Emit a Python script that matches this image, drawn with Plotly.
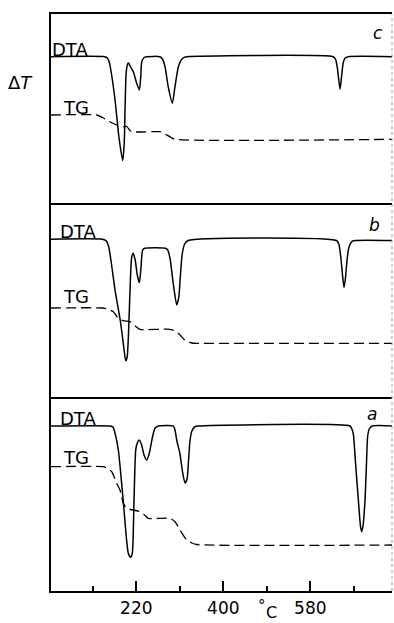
import plotly.graph_objects as go
from plotly.subplots import make_subplots

# ---- run c (top panel) : temperature in °C, signals in arbitrary units ----
temp_c_dta = [43.5, 155, 160, 164, 168, 176, 184, 191.9, 195, 197, 199, 202, 204, 208, 213.8,
              220.8, 226.2, 229, 231.2, 236, 241.5, 269, 274, 279.4, 286, 294.5, 300, 307, 313,
              320, 325, 627, 632, 636, 641.5, 645, 648, 652, 658, 751]
dta_c = [146.3, 146.3, 145, 141, 131, 103, 66, 42.3, 60, 100, 130, 139, 140, 136, 131.3,
         119.7, 113, 125, 141, 145.5, 146.3, 146.3, 144, 136.3, 116.3, 99.7, 116.3, 136.3, 143,
         145.8, 146.3, 146.3, 144, 135, 113.7, 128, 140, 145, 146.3, 146.3]
temp_c_tg = [43.5, 138, 150, 162, 179.4, 193, 200, 206, 210.5, 269, 276, 283, 292, 300, 751]
tg_c = [88, 88, 85.5, 82, 78, 76.3, 76.5, 73, 71.3, 71.3, 70, 68, 65.5, 63.7, 63.7]

# ---- run b (middle panel) ----
temp_b_dta = [43.5, 150, 158, 163, 168, 176, 187, 194, 198, 201, 204, 207, 210.5, 213.8, 218,
              222, 226.2, 229.5, 233.2, 238, 280, 285, 290, 296, 303.6, 308, 311, 315, 320, 327,
              634, 639, 643, 647, 649.7, 652.5, 656, 660, 666, 672, 751]
dta_b = [157.7, 157.7, 156, 150, 135, 107, 76, 50, 36.3, 40, 65, 107, 140, 143.7, 136,
         122, 114.3, 128, 147, 148.7, 148.7, 147, 138, 115, 92, 100, 120, 143, 153, 156.5,
         156.5, 153, 140, 120, 109.7, 118, 137, 150, 155.5, 156.5, 156.5]
temp_b_tg = [43.5, 150, 160, 172.4, 182.8, 193.1, 207, 214, 220.8, 227.7, 289.7, 300, 310.4,
             318, 324.3, 335, 345, 751]
tg_b = [89, 89, 88, 85.3, 78.7, 76.3, 75.3, 73, 69.7, 67.7, 67.7, 66, 62, 58, 55.3, 54, 53.7, 53.7]

# ---- run a (bottom panel) ----
temp_a_dta = [43.5, 165, 171.8, 175.9, 182.8, 193.1, 203.4, 208.4, 211.7, 215.2, 218.8, 222,
              226.2, 231, 236, 241.5, 247, 253, 258.7, 266, 296.6, 300, 304, 310, 316, 320.8,
              325, 328, 331, 335, 342, 348, 662, 666, 669, 674, 679.4, 684, 686.4, 689, 693.2,
              696, 698.7, 702, 708, 751]
dta_a = [165, 165, 164, 158, 141, 89.5, 37.7, 33.7, 37.7, 90, 141, 148,
         151, 146, 136, 131, 138, 153, 162.7, 165, 165, 161, 150, 138, 118, 108,
         112, 130, 150, 160, 164.5, 165, 165, 162, 157, 125, 91, 64, 59.3, 65, 91,
         125, 155, 162, 165, 165]
temp_a_tg = [43.5, 150, 160, 169, 179.4, 186.3, 193.1, 200.1, 207, 213.8, 227.7, 237, 244.8,
             289.7, 300.1, 310.4, 324.3, 335, 345, 751]
tg_a = [124.3, 124.3, 123, 119.3, 107.7, 101, 87.7, 82.7, 81.5, 81, 79.3, 76, 72.7,
        72.7, 69.3, 61, 51, 48, 46.5, 46]

tick_vals = [220, 400, 580]
tick_text = ["220", "400", "580"]
panel_letters = ["c", "b", "a"]
x_range = [43.5, 749]
y_ranges = [[0, 189], [0, 194], [0, 194]]

# page geometry (pixels)
W, H = 394, 623
ML, MR, MT, MB = 51, 2, 14, 32
PW, PH = W - ML - MR, H - MT - MB


def px_x(x):
    return (x - ML) / PW


def px_y(y):
    return (H - MB - y) / PH


FONT = "DejaVu Sans"
runs = [
    (temp_c_dta, dta_c, temp_c_tg, tg_c),
    (temp_b_dta, dta_b, temp_b_tg, tg_b),
    (temp_a_dta, dta_a, temp_a_tg, tg_a),
]

fig = make_subplots(rows=3, cols=1, shared_xaxes=True, vertical_spacing=0)

for i, (td, d, tt, g) in enumerate(runs, start=1):
    fig.add_trace(go.Scatter(x=td, y=d, mode="lines",
                             line=dict(color="black", width=1.5, shape="spline", smoothing=0.6),
                             showlegend=False, hoverinfo="skip"), row=i, col=1)
    fig.add_trace(go.Scatter(x=tt, y=g, mode="lines",
                             line=dict(color="black", width=1.3, dash="10px,5px",
                                       shape="spline", smoothing=0.6),
                             showlegend=False, hoverinfo="skip"), row=i, col=1)

domains = [[px_y(203), 1.0], [px_y(397), px_y(203)], [0.0, px_y(397)]]
for i in range(3):
    sx = "xaxis" if i == 0 else f"xaxis{i + 1}"
    sy = "yaxis" if i == 0 else f"yaxis{i + 1}"
    fig.layout[sy].update(domain=domains[i], range=y_ranges[i], showgrid=False,
                          zeroline=False, showticklabels=False, ticks="",
                          showline=True, linecolor="black", linewidth=1.5, mirror=False)
    # each panel draws its own lower edge; the top panel also closes the frame on top
    fig.layout[sx].update(range=x_range, showgrid=False, zeroline=False,
                          showline=True, linecolor="black", linewidth=1.5,
                          mirror=(i == 0))
    if i < 2:
        fig.layout[sx].update(showticklabels=False, ticks="")

fig.layout.xaxis3.update(
    tickmode="array", tickvals=tick_vals, ticktext=tick_text,
    ticks="inside", ticklen=10, tickwidth=1.5, tickcolor="black",
    showticklabels=True, ticklabelstandoff=1,
    tickfont=dict(family=FONT, size=17, color="black"),
    minor=dict(ticks="inside", ticklen=5, tickwidth=1.5, tickcolor="black",
               tick0=130, dtick=180, showgrid=False),
)

# faint right-hand frame edge
fig.add_shape(type="line", xref="paper", yref="paper", x0=1, x1=1, y0=0, y1=1,
              line=dict(color="#9a9a9a", width=1, dash="dot"))

annotations = []


def label(text, x, y, size=17, anchor="left", color="black"):
    annotations.append(dict(text=text, xref="paper", yref="paper", x=px_x(x), y=px_y(y),
                            xanchor=anchor, yanchor="middle", showarrow=False,
                            font=dict(family=FONT, size=size, color=color)))


# curve names and run letters
label("DTA", 50, 49, size=18)
label("TG", 61, 108, size=18)
label("DTA", 58, 231, size=18)
label("TG", 61, 296, size=18)
label("DTA", 58, 418, size=18)
label("TG", 61, 457, size=18)
letter_pos = [(378, 33), (374, 225), (372, 414)]
for letter, (lx, ly) in zip(panel_letters, letter_pos):
    label(f"<i>{letter}</i>", lx, ly, size=17, anchor="center")

# axis titles
label("Δ<i>T</i>", 20, 82, size=18, anchor="center")
label("°", 262, 606, size=15, anchor="center")
label("C", 271, 612, size=16, anchor="center")

fig.update_layout(
    width=W, height=H,
    margin=dict(l=ML, r=MR, t=MT, b=MB, pad=0),
    paper_bgcolor="white", plot_bgcolor="white",
    annotations=annotations,
    showlegend=False,
)

fig.write_html("out.html")
